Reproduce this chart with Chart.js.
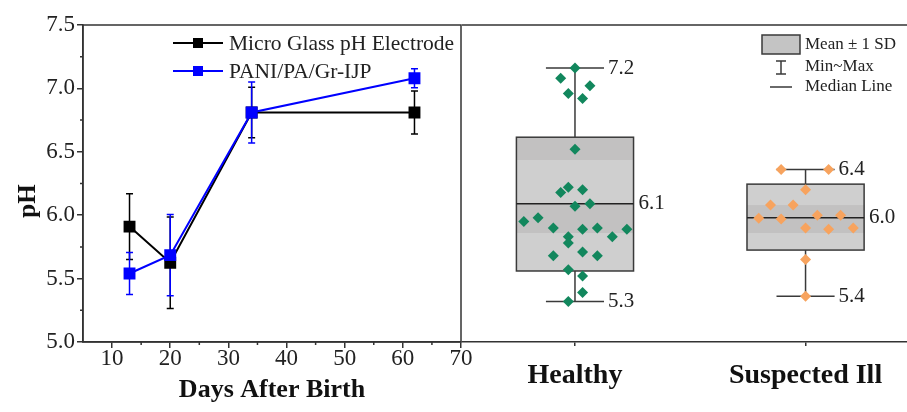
<!DOCTYPE html>
<html>
<head>
<meta charset="utf-8">
<script src="https://cdn.jsdelivr.net/npm/chart.js@4.4.1/dist/chart.umd.min.js"></script>
<style>
html, body { margin: 0; padding: 0; background: #fff; }
#wrap { position: relative; width: 907px; height: 412px; overflow: hidden; }
#left { position: absolute; left: 0; top: 0; }
#right { position: absolute; left: 462px; top: 0; z-index: 2; }
</style>
</head>
<body>
<div id="wrap">
  <canvas id="left" width="484" height="412"></canvas>
  <canvas id="right" width="445" height="412"></canvas>
</div>
<script>
// left panel: pH vs days
var days = [13, 20, 34, 62];
var glassPH = [5.91, 5.625, 6.81, 6.81];
var glassErr = [0.26, 0.36, 0.2, 0.17];
var paniPH = [5.54, 5.685, 6.81, 7.08];
var paniErr = [0.165, 0.32, 0.24, 0.075];
var seriesNames = ['Micro Glass pH Electrode', 'PANI/PA/Gr-IJP'];
var xTicks = [10, 20, 30, 40, 50, 60, 70];
var xMinor = [15, 25, 35, 45, 55, 65];
var yTicks = [5.0, 5.5, 6.0, 6.5, 7.0, 7.5];
var yMinor = [5.25, 5.75, 6.25, 6.75, 7.25];

// right panel: box plots
var groups = ['Healthy', 'Suspected Ill'];
var healthyPH = [7.16, 7.08, 7.02, 6.96, 6.92, 6.52, 6.18, 6.22, 6.20, 6.07, 6.09, 5.95, 5.98, 5.90,
  5.89, 5.90, 5.89, 5.83, 5.83, 5.78, 5.68, 5.71, 5.68, 5.57, 5.52, 5.39, 5.32];
var healthyJitter = [0, -0.062, 0.065, -0.029, 0.033, 0, -0.062, -0.029, 0.033, 0, 0.065, -0.222, -0.16, -0.094,
  0.033, 0.097, 0.225, 0.162, -0.029, -0.029, -0.094, 0.033, 0.097, -0.029, 0.033, 0.033, -0.029];
var illPH = [6.36, 6.36, 6.20, 6.08, 6.08, 5.975, 5.97, 6.00, 6.00, 5.90, 5.89, 5.90, 5.65, 5.36];
var illJitter = [-0.106, 0.10, 0, -0.152, -0.054, -0.203, -0.106, 0.051, 0.152, 0, 0.10, 0.207, 0, 0];
var boxLow = [5.56, 5.725];
var boxHigh = [6.615, 6.245];
var medians = [6.09, 5.98];
var mins = [5.32, 5.36];
var maxs = [7.16, 6.36];
var bandsDark = [[[6.435, 6.615], [5.86, 6.09]], [[5.86, 6.08]]];

var serif = 'Liberation Serif, Times New Roman, serif';
var axisCol = '#333';

function pts(xs, ys) {
  return xs.map(function (x, i) { return { x: x, y: ys[i] }; });
}
function noPad(s) {
  s.paddingLeft = 0; s.paddingRight = 0; s.paddingTop = 0; s.paddingBottom = 0;
}

var leftPlugin = {
  id: 'leftExtras',
  beforeDatasetsDraw: function (chart) {
    var ctx = chart.ctx, xs = chart.scales.x, ys = chart.scales.y;
    ctx.save();
    chart.data.datasets.forEach(function (ds) {
      ctx.strokeStyle = ds.borderColor;
      ctx.lineWidth = 1.5;
      ds.data.forEach(function (p, i) {
        var x = xs.getPixelForValue(p.x);
        var y1 = ys.getPixelForValue(p.y + ds.err[i]);
        var y2 = ys.getPixelForValue(p.y - ds.err[i]);
        ctx.beginPath();
        ctx.moveTo(x, y1); ctx.lineTo(x, y2);
        ctx.moveTo(x - 3.5, y1); ctx.lineTo(x + 3.5, y1);
        ctx.moveTo(x - 3.5, y2); ctx.lineTo(x + 3.5, y2);
        ctx.stroke();
      });
    });
    ctx.restore();
  },
  afterDraw: function (chart) {
    var ctx = chart.ctx, a = chart.chartArea, xs = chart.scales.x, ys = chart.scales.y;
    ctx.save();
    ctx.strokeStyle = axisCol;
    ctx.lineWidth = 1.5;
    ctx.strokeRect(a.left, a.top, a.right - a.left, a.bottom - a.top);
    ctx.beginPath();
    xMinor.forEach(function (v) {
      var x = xs.getPixelForValue(v);
      ctx.moveTo(x, a.bottom); ctx.lineTo(x, a.bottom + 3);
    });
    yMinor.forEach(function (v) {
      var y = ys.getPixelForValue(v);
      ctx.moveTo(a.left, y); ctx.lineTo(a.left - 3, y);
    });
    ctx.stroke();

    // legend
    var ly = [43, 71];
    ctx.font = '21.5px ' + serif;
    ctx.textBaseline = 'middle';
    [0, 1].forEach(function (k) {
      var ds = chart.data.datasets[k];
      ctx.strokeStyle = ds.borderColor;
      ctx.fillStyle = ds.borderColor;
      ctx.lineWidth = 2;
      ctx.beginPath();
      ctx.moveTo(173, ly[k]); ctx.lineTo(223, ly[k]);
      ctx.stroke();
      ctx.fillRect(193, ly[k] - 5, 10, 10);
      ctx.fillStyle = '#222';
      ctx.fillText(ds.label, 229, ly[k] + 1);
    });

    // y title
    ctx.translate(29, 201);
    ctx.rotate(-Math.PI / 2);
    ctx.textAlign = 'center';
    ctx.font = 'bold 25px ' + serif;
    ctx.fillStyle = '#111';
    ctx.fillText('pH', 0, 0);
    ctx.restore();
  }
};

new Chart(document.getElementById('left'), {
  type: 'line',
  data: {
    datasets: [
      { label: seriesNames[0], data: pts(days, glassPH), err: glassErr, order: 1,
        borderColor: '#000000', backgroundColor: '#000000', borderWidth: 2,
        pointStyle: 'rect', pointRadius: 7, tension: 0 },
      { label: seriesNames[1], data: pts(days, paniPH), err: paniErr, order: 0,
        borderColor: '#0000ff', backgroundColor: '#0000ff', borderWidth: 2,
        pointStyle: 'rect', pointRadius: 7, tension: 0 }
    ]
  },
  options: {
    responsive: false,
    animation: false,
    events: [],
    layout: { autoPadding: false, padding: { top: 25, right: 23, left: 0, bottom: 0 } },
    plugins: { legend: { display: false }, tooltip: { enabled: false } },
    scales: {
      x: {
        type: 'linear', min: 5, max: 70,
        afterBuildTicks: function (s) { s.ticks = xTicks.map(function (v) { return { value: v }; }); },
        afterFit: function (s) { s.height = 70; noPad(s); },
        ticks: { font: { family: serif, size: 23 }, color: '#222', padding: -3, maxRotation: 0, autoSkip: false },
        grid: { drawOnChartArea: false, tickLength: 6, color: axisCol, lineWidth: 1.5 },
        border: { color: axisCol, width: 1.5 },
        title: { display: true, text: 'Days After Birth', color: '#111',
          font: { family: serif, size: 26, weight: 'bold' }, padding: { top: 0, bottom: 6 } }
      },
      y: {
        min: 5, max: 7.5,
        afterBuildTicks: function (s) { s.ticks = yTicks.map(function (v) { return { value: v }; }); },
        afterFit: function (s) { s.width = 83; noPad(s); },
        ticks: { font: { family: serif, size: 23 }, color: '#222', padding: 2,
          callback: function (v) { return v.toFixed(1); } },
        grid: { drawOnChartArea: false, tickLength: 6, color: axisCol, lineWidth: 1.5 },
        border: { color: axisCol, width: 1.5 }
      }
    }
  },
  plugins: [leftPlugin]
});

var rightPlugin = {
  id: 'rightExtras',
  beforeDatasetsDraw: function (chart) {
    var ctx = chart.ctx, xs = chart.scales.x, ys = chart.scales.y;
    ctx.save();
    groups.forEach(function (g, i) {
      var c = i + 1;
      var xl = xs.getPixelForValue(c - 0.254), xr = xs.getPixelForValue(c + 0.254);
      var xc = xs.getPixelForValue(c);
      var yt = ys.getPixelForValue(boxHigh[i]), yb = ys.getPixelForValue(boxLow[i]);
      ctx.strokeStyle = '#3a3a3a';
      ctx.lineWidth = 1.5;
      // whiskers
      var cl = xs.getPixelForValue(c - 0.126), cr = xs.getPixelForValue(c + 0.126);
      var ymax = ys.getPixelForValue(maxs[i]), ymin = ys.getPixelForValue(mins[i]);
      ctx.beginPath();
      ctx.moveTo(xc, ymax); ctx.lineTo(xc, yt);
      ctx.moveTo(xc, yb); ctx.lineTo(xc, ymin);
      ctx.moveTo(cl, ymax); ctx.lineTo(cr, ymax);
      ctx.moveTo(cl, ymin); ctx.lineTo(cr, ymin);
      ctx.stroke();
      // box
      ctx.fillStyle = '#cfcfcf';
      ctx.fillRect(xl, yt, xr - xl, yb - yt);
      ctx.fillStyle = '#c2c1c1';
      bandsDark[i].forEach(function (b) {
        var y1 = ys.getPixelForValue(b[1]), y2 = ys.getPixelForValue(b[0]);
        ctx.fillRect(xl, y1, xr - xl, y2 - y1);
      });
      ctx.strokeRect(xl, yt, xr - xl, yb - yt);
      var ym = ys.getPixelForValue(medians[i]);
      ctx.strokeStyle = '#222';
      ctx.beginPath();
      ctx.moveTo(xl, ym); ctx.lineTo(xr, ym);
      ctx.stroke();
      // value labels
      ctx.fillStyle = '#222';
      ctx.font = '21px ' + serif;
      ctx.textBaseline = 'middle';
      ctx.fillText(maxs[i].toFixed(1), cr + 4, ymax);
      ctx.fillText(mins[i].toFixed(1), cr + 4, ymin);
      ctx.fillText(medians[i].toFixed(1), xr + 5, ym);
    });
    ctx.restore();
  },
  afterDraw: function (chart) {
    var ctx = chart.ctx, a = chart.chartArea;
    ctx.save();
    ctx.strokeStyle = axisCol;
    ctx.lineWidth = 1.5;
    ctx.beginPath();
    ctx.moveTo(a.left, a.top); ctx.lineTo(a.right, a.top);
    ctx.stroke();
    // legend
    ctx.fillStyle = '#c4c4c4';
    ctx.fillRect(300, 35, 38, 19);
    ctx.strokeStyle = '#3a3a3a';
    ctx.strokeRect(300, 35, 38, 19);
    ctx.beginPath();
    ctx.moveTo(319, 61); ctx.lineTo(319, 74);
    ctx.moveTo(314, 61); ctx.lineTo(324, 61);
    ctx.moveTo(314, 74); ctx.lineTo(324, 74);
    ctx.moveTo(308, 87); ctx.lineTo(330, 87);
    ctx.stroke();
    ctx.fillStyle = '#222';
    ctx.font = '17px ' + serif;
    ctx.textBaseline = 'middle';
    ctx.fillText('Mean \u00b1 1 SD', 343, 45);
    ctx.fillText('Min~Max', 343, 67);
    ctx.fillText('Median Line', 343, 87);
    ctx.restore();
  }
};

new Chart(document.getElementById('right'), {
  type: 'scatter',
  data: {
    datasets: [
      { label: groups[0], data: pts(healthyJitter.map(function (j) { return 1 + j; }), healthyPH),
        pointStyle: 'rectRot', pointRadius: 5.5, backgroundColor: '#12875d', borderWidth: 0 },
      { label: groups[1], data: pts(illJitter.map(function (j) { return 2 + j; }), illPH),
        pointStyle: 'rectRot', pointRadius: 5.5, backgroundColor: '#f7a35e', borderWidth: 0 }
    ]
  },
  options: {
    responsive: false,
    animation: false,
    events: [],
    layout: { autoPadding: false, padding: { top: 25, right: 0, left: 0, bottom: 0 } },
    plugins: { legend: { display: false }, tooltip: { enabled: false } },
    scales: {
      x: {
        type: 'linear', min: 0.51, max: 2.44,
        afterBuildTicks: function (s) { s.ticks = [{ value: 1 }, { value: 2 }]; },
        afterFit: function (s) { s.height = 70; noPad(s); },
        ticks: { font: { family: serif, size: 28, weight: 'bold' }, color: '#111', padding: 13,
          maxRotation: 0, autoSkip: false,
          callback: function (v) { return groups[v - 1]; } },
        grid: { drawOnChartArea: false, tickLength: 4, color: axisCol, lineWidth: 1.5 },
        border: { color: axisCol, width: 1.5 }
      },
      y: { display: false, min: 5, max: 7.5 }
    }
  },
  plugins: [rightPlugin]
});
</script>
</body>
</html>
